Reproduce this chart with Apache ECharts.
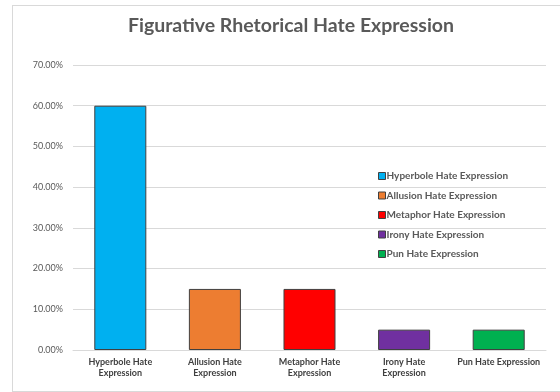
<!DOCTYPE html>
<html>
<head>
<meta charset="utf-8">
<script src="https://cdn.jsdelivr.net/npm/echarts@6/dist/echarts.min.js"></script>
<style>
html, body { margin: 0; padding: 0; background: #fff; }
#frame { position: absolute; left: 12px; top: 5px; width: 560px; height: 387px; border: 1px solid #d9d9d9; box-sizing: border-box; }
#chart { position: absolute; left: 0; top: 0; width: 560px; height: 392px; }
</style>
</head>
<body>
<div id="frame"></div>
<div id="chart"></div>
<script>
// categories and values (fractions)
var categories = ['Hyperbole Hate\nExpression', 'Allusion Hate\nExpression', 'Metaphor Hate\nExpression', 'Irony Hate\nExpression', 'Pun Hate Expression'];
var seriesNames = ['Hyperbole Hate Expression', 'Allusion Hate Expression', 'Metaphor Hate Expression', 'Irony Hate Expression', 'Pun Hate Expression'];
var values = [0.60, 0.15, 0.15, 0.05, 0.05];
var colors = ['#00b0f0', '#ed7d31', '#ff0000', '#7030a0', '#00b050'];

var seriesList = seriesNames.map(function (name, i) {
    var d = values.map(function (v, j) { return j === i ? v : '-'; });
    return {
        name: name,
        type: 'bar',
        stack: 'cat',
        barWidth: '55%',
        itemStyle: { color: colors[i], borderColor: '#404040', borderWidth: 1 },
        data: d
    };
});

var option = {
    animation: false,
    textStyle: { fontFamily: 'Lato' },
    title: {
        text: 'Figurative Rhetorical Hate Expression',
        left: 286,
        textAlign: 'center',
        top: 11,
        textStyle: { fontSize: 19.5, fontWeight: 'bold', color: '#595959', fontFamily: 'Lato' }
    },
    legend: {
        orient: 'vertical',
        left: 373,
        top: 166,
        itemWidth: 7,
        itemHeight: 7,
        itemGap: 9.5,
        icon: 'rect',
        itemStyle: { borderColor: '#404040', borderWidth: 1 },
        textStyle: { fontSize: 10, fontWeight: 'bold', color: '#595959', padding: [0, 0, 0, -4] },
        data: seriesNames
    },
    grid: { left: 73, right: 14, top: 65, bottom: 42 },
    xAxis: {
        type: 'category',
        data: categories,
        axisTick: { show: false },
        axisLine: { lineStyle: { color: '#d9d9d9' } },
        axisLabel: { fontSize: 9, fontWeight: 'bold', color: '#404040', lineHeight: 11, margin: 7, interval: 0 }
    },
    yAxis: {
        type: 'value',
        min: 0,
        max: 0.7,
        interval: 0.1,
        axisLine: { show: false },
        axisTick: { show: false },
        splitLine: { lineStyle: { color: '#d9d9d9' } },
        axisLabel: {
            fontSize: 9,
            color: '#595959',
            margin: 10,
            formatter: function (v) { return (v * 100).toFixed(2) + '%'; }
        }
    },
    series: seriesList
};

var chart = echarts.init(document.getElementById('chart'));
chart.setOption(option);
window.addEventListener('resize', function () { chart.resize(); });
</script>
</body>
</html>
